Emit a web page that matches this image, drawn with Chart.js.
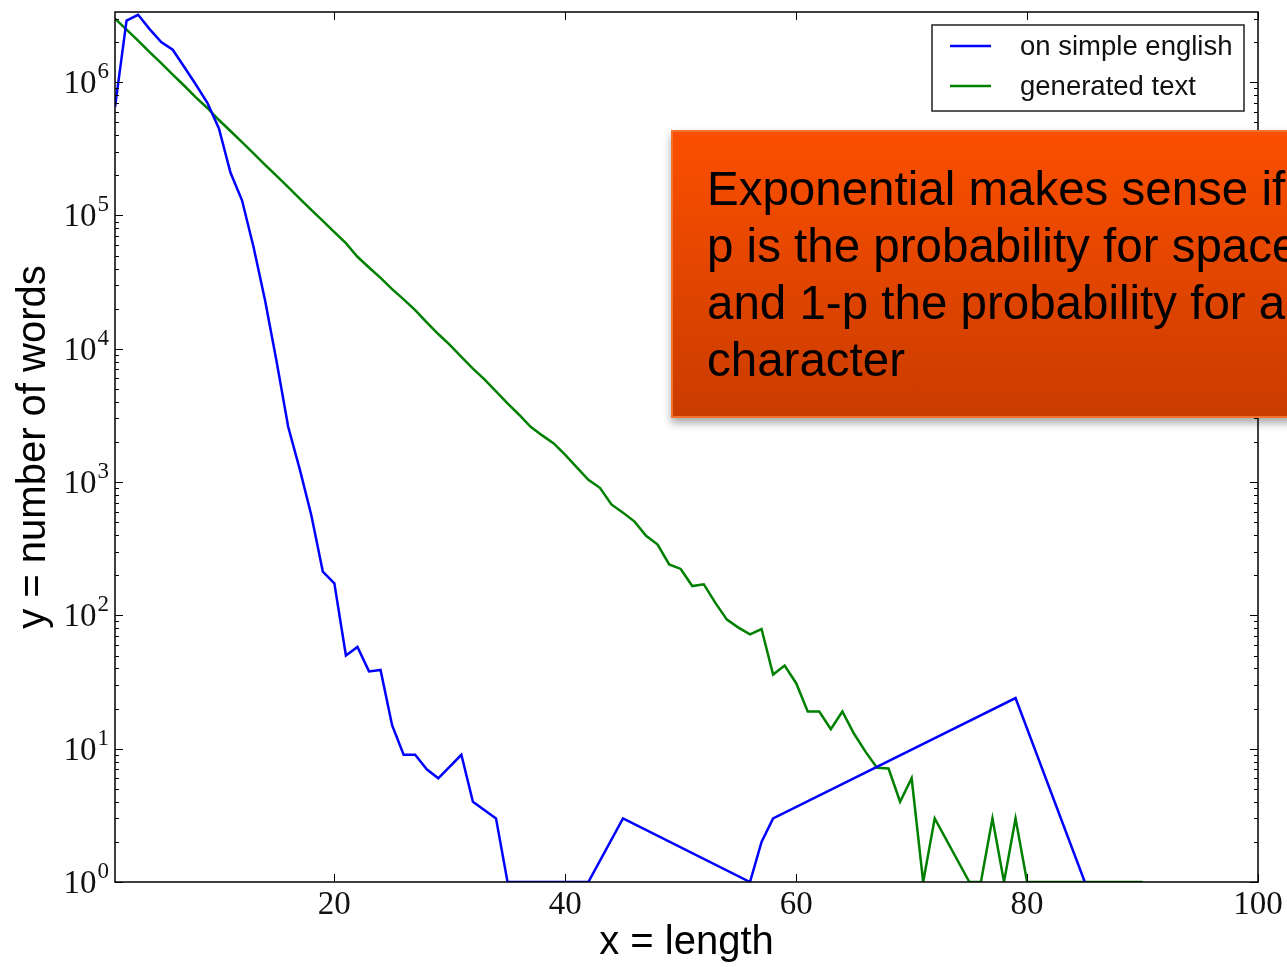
<!DOCTYPE html>
<html>
<head>
<meta charset="utf-8">
<script src="https://cdn.jsdelivr.net/npm/chart.js@4.4.1/dist/chart.umd.min.js"></script>
<style>
body { margin: 0; background: #fff; overflow: hidden; }
#wrap { position: relative; width: 1287px; height: 967px; overflow: hidden; }
#note {
    position: absolute; left: 671px; top: 130px; width: 680px; height: 288px;
    box-sizing: border-box;
    background: linear-gradient(#fb4f00, #ca3c00);
    border: 2px solid #f3722c;
    box-shadow: 0 5px 8px rgba(0,0,0,0.35);
    font-family: "Liberation Sans", Arial, sans-serif;
    font-size: 47.5px; line-height: 57px; color: #000;
    padding: 28px 0 0 34px; white-space: nowrap;
}
</style>
</head>
<body>
<div id="wrap">
<canvas id="wordLengths" width="1287" height="967"></canvas>
<div id="note">Exponential makes sense if<br>p is the probability for space<br>and 1-p the probability for a<br>character</div>
</div>
<script>
const simpleColor = "#0000ff"
const generatedColor = "#008000"

// word length -> number of words, simple english wikipedia
const simpleX = [1, 2, 3, 4, 5, 6, 7, 8, 9, 10, 11, 12, 13, 14, 15, 16, 17, 18, 19, 20,
    21, 22, 23, 24, 25, 26, 27, 28, 29, 31, 32, 34, 35, 36, 37, 38, 39, 40, 41, 42,
    45, 56, 57, 58, 79, 85]
const simpleY = [6.5e5, 2.9e6, 3.2e6, 2.5e6, 2.0e6, 1.75e6, 1.3e6, 9.6e5, 7.0e5, 4.5e5,
    2.1e5, 1.3e5, 5.8e4, 2.3e4, 8000, 2600, 1250, 566, 213, 174,
    50, 58, 38, 39, 15, 9, 9, 7, 6, 9, 4, 3, 1, 1, 1, 1, 1, 1, 1, 1,
    3, 1, 2, 3, 24, 1]

// word length -> number of words, generated text
const generatedX = [1, 2, 3, 4, 5, 6, 7, 8, 9, 10, 11, 12, 13, 14, 15, 16, 17, 18, 19, 20,
    21, 22, 23, 24, 25, 26, 27, 28, 29, 30, 31, 32, 33, 34, 35, 36, 37, 38, 39, 40,
    41, 42, 43, 44, 45, 46, 47, 48, 49, 50, 51, 52, 53, 54, 55, 56, 57, 58, 59, 60,
    61, 62, 63, 64, 65, 66, 67, 68, 69, 70, 71, 72, 75, 76, 77, 78, 79, 80, 90]
const generatedY = [3.0e6, 2.48e6, 2.05e6, 1.68e6, 1.39e6, 1.14e6, 9.4e5, 7.7e5, 6.4e5, 5.2e5,
    4.3e5, 3.55e5, 2.92e5, 2.4e5, 1.98e5, 1.63e5, 1.34e5, 1.1e5, 9.1e4, 7.5e4,
    6.2e4, 4.9e4, 4.07e4, 3.4e4, 2.8e4, 2.35e4, 1.95e4, 1.58e4, 1.29e4, 1.07e4,
    8700, 7100, 5900, 4800, 3900, 3200, 2600, 2240, 1950, 1600,
    1290, 1040, 906, 680, 590, 505, 395, 340, 241, 223,
    166, 171, 124, 93, 81, 72, 79, 36, 42, 31,
    19, 19, 14, 19, 13, 9.5, 7.2, 7.1, 4, 6, 1, 3, 1, 1, 3, 1, 3, 1, 1]

const xTicks = [20, 40, 60, 80, 100]
const yExponents = ["0", "1", "2", "3", "4", "5", "6"]

const toPoints = (xs, ys) => xs.map((x, i) => ({ x: x, y: ys[i] }))

const tickFont = "'Liberation Serif', 'DejaVu Serif', serif"
const textFont = "'Liberation Sans', Arial, sans-serif"

// frame, inward ticks and 10^n labels, matplotlib style
const axisDecor = {
    id: 'axisDecor',
    afterDraw(chart) {
        const { ctx, chartArea: a, scales: { x, y } } = chart
        const line = (x1, y1, x2, y2) => { ctx.beginPath(); ctx.moveTo(x1, y1); ctx.lineTo(x2, y2); ctx.stroke() }
        ctx.save()
        ctx.strokeStyle = '#000'
        ctx.lineWidth = 1
        xTicks.forEach(v => {
            const px = Math.round(x.getPixelForValue(v)) + 0.5
            line(px, a.bottom, px, a.bottom - 8)
            line(px, a.top, px, a.top + 8)
        })
        yExponents.forEach(e => {
            for (let m = 1; m <= 9; m++) {
                const v = m * Math.pow(10, +e)
                if (v > y.max) break
                const py = Math.round(y.getPixelForValue(v)) + 0.5
                const len = m === 1 ? 8 : 4
                line(a.left, py, a.left + len, py)
                line(a.right, py, a.right - len, py)
            }
        })
        ctx.lineWidth = 1.5
        ctx.strokeRect(a.left, a.top, a.right - a.left, a.bottom - a.top)

        ctx.fillStyle = '#111'
        ctx.textBaseline = 'alphabetic'
        ctx.textAlign = 'left'
        yExponents.forEach(e => {
            const py = y.getPixelForValue(Math.pow(10, +e))
            ctx.font = "23px " + tickFont
            const supW = ctx.measureText(e).width
            ctx.font = "33px " + tickFont
            const baseW = ctx.measureText("10").width
            const x0 = a.left - 7 - supW - baseW
            ctx.fillText("10", x0, py + 11)
            ctx.font = "23px " + tickFont
            ctx.fillText(e, x0 + baseW + 1, py - 4)
        })
        ctx.restore()
    }
}

// boxed legend in the upper right corner
const boxLegend = {
    id: 'boxLegend',
    afterDatasetsDraw(chart) {
        const { ctx, chartArea: a } = chart
        const w = 312, h = 86
        const left = a.right - 14 - w, top = a.top + 13
        ctx.save()
        ctx.fillStyle = '#fff'
        ctx.fillRect(left, top, w, h)
        ctx.strokeStyle = '#222'
        ctx.lineWidth = 1.5
        ctx.strokeRect(left, top, w, h)
        ctx.font = "27.5px " + textFont
        ctx.textBaseline = 'middle'
        chart.data.datasets.forEach((ds, i) => {
            const cy = top + 21 + i * 40
            ctx.strokeStyle = ds.borderColor
            ctx.lineWidth = 2.5
            ctx.beginPath(); ctx.moveTo(left + 18, cy); ctx.lineTo(left + 59, cy); ctx.stroke()
            ctx.fillStyle = '#111'
            ctx.fillText(ds.label, left + 88, cy + 1)
        })
        ctx.restore()
    }
}

const wordLengths = new Chart(document.getElementById("wordLengths"), {
    type: 'line',
    data: {
        datasets: [{
            label: 'on simple english',
            data: toPoints(simpleX, simpleY),
            borderColor: simpleColor,
            borderWidth: 2.5,
            pointRadius: 0,
            fill: false,
            tension: 0
        }, {
            label: 'generated text',
            data: toPoints(generatedX, generatedY),
            borderColor: generatedColor,
            borderWidth: 2.5,
            pointRadius: 0,
            fill: false,
            tension: 0
        }]
    },
    options: {
        responsive: false,
        animation: false,
        layout: { padding: { top: 12, right: 29, left: 0, bottom: 0 } },
        plugins: { legend: { display: false }, tooltip: { enabled: false } },
        scales: {
            x: {
                type: 'linear',
                min: 1,
                max: 100,
                grid: { display: false, drawTicks: false },
                border: { display: false },
                afterBuildTicks: scale => { scale.ticks = xTicks.map(v => ({ value: v })) },
                afterFit: scale => { scale.height = 85 },
                ticks: { color: '#111', padding: 4, maxRotation: 0, font: { family: tickFont, size: 33 } },
                title: { display: true, text: 'x = length', color: '#000', padding: 0, font: { family: textFont, size: 40 } }
            },
            y: {
                type: 'logarithmic',
                min: 1,
                max: 3.36e6,
                grid: { display: false, drawTicks: false },
                border: { display: false },
                afterFit: scale => { scale.width = 115 },
                ticks: { display: false },
                title: { display: true, text: 'y = number of words', color: '#000', padding: { top: 10, bottom: 0 }, font: { family: textFont, size: 40 } }
            }
        }
    },
    plugins: [axisDecor, boxLegend]
})
</script>
</body>
</html>
